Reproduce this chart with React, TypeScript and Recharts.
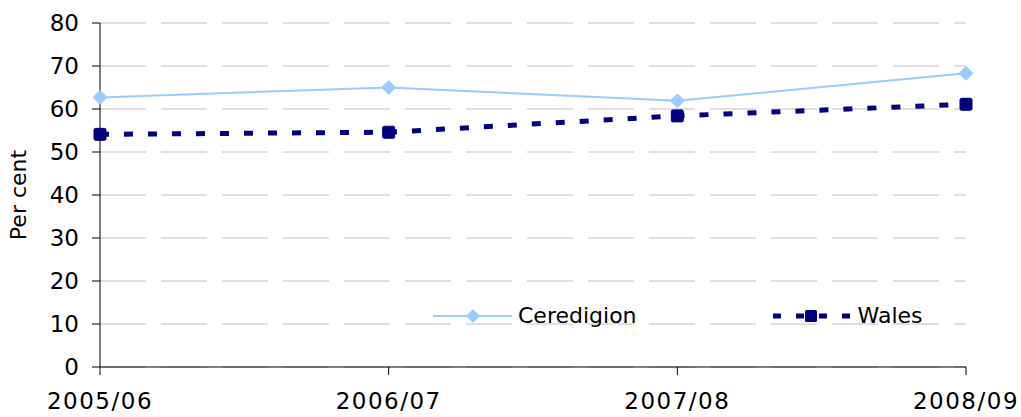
import { LineChart, Line, XAxis, YAxis, CartesianGrid, Legend, Label } from 'recharts';

const years = ['2005/06', '2006/07', '2007/08', '2008/09'];
const ceredigion = [62.7, 65.0, 61.9, 68.3];
const wales = [54.1, 54.6, 58.4, 61.1];
const yTicks = [0, 10, 20, 30, 40, 50, 60, 70, 80];

const data = years.map((year, i) => ({
  year,
  Ceredigion: ceredigion[i],
  Wales: wales[i],
}));

const LIGHT = '#99CCFF';
const NAVY = '#000080';
const FONT = '"DejaVu Sans", Verdana, sans-serif';

const Diamond = (props: any) => {
  const { cx, cy } = props;
  if (cx == null || cy == null) return null;
  const r = 7;
  return (
    <polygon
      points={`${cx},${cy - r} ${cx + r},${cy} ${cx},${cy + r} ${cx - r},${cy}`}
      fill={LIGHT}
      stroke={LIGHT}
    />
  );
};

const Square = (props: any) => {
  const { cx, cy } = props;
  if (cx == null || cy == null) return null;
  return <rect x={cx - 6} y={cy - 6} width={12} height={12} rx={1.5} fill={NAVY} stroke={NAVY} />;
};

const renderLegend = (props: any) => {
  const items = props.payload || [];
  return (
    <div style={{ display: 'flex', alignItems: 'center', fontFamily: FONT, fontSize: 22, lineHeight: '26px' }}>
      {items.map((item: any, i: number) => (
        <div key={item.value} style={{ display: 'flex', alignItems: 'center', marginLeft: i === 0 ? 0 : 136 }}>
          <svg width={79} height={26}>
            {item.value === 'Wales' ? (
              <>
                <line x1={0} y1={13} x2={79} y2={13} stroke={NAVY} strokeWidth={5} strokeDasharray="8 15" />
                <rect x={32} y={7} width={12} height={12} rx={1.5} fill={NAVY} />
              </>
            ) : (
              <>
                <line x1={0} y1={13} x2={79} y2={13} stroke={LIGHT} strokeWidth={2} />
                <polygon points="40,6 47,13 40,20 33,13" fill={LIGHT} />
              </>
            )}
          </svg>
          <span style={{ marginLeft: 6, color: '#000' }}>{item.value}</span>
        </div>
      ))}
    </div>
  );
};

const YLabel = (props: any) => {
  const vb = props.viewBox || { x: 0, y: 0, height: 0 };
  const x = vb.x + 26;
  const y = vb.y + vb.height / 2;
  return (
    <text x={x} y={y} transform={`rotate(-90, ${x}, ${y})`} textAnchor="middle" fontSize={22} fontFamily={FONT} fill="#000">
      Per cent
    </text>
  );
};

export default function App() {
  return (
    <div style={{ position: 'absolute', left: 0, top: 0, width: 1021, height: 417, background: '#fff', fontFamily: FONT }}>
      <LineChart width={1021} height={417} data={data} margin={{ top: 23, right: 55, bottom: 0, left: 0 }}>
        <CartesianGrid vertical={false} stroke="#C0C0C0" strokeDasharray="46 15" />
        <XAxis
          dataKey="year"
          height={50}
          stroke="#000"
          tickSize={8}
          tickMargin={18}
          tick={{ fill: '#000', fontSize: 23, fontFamily: FONT, letterSpacing: 1.5 }}
          interval={0}
        />
        <YAxis
          width={100}
          domain={[0, 80]}
          ticks={yTicks}
          stroke="#000"
          tickSize={8}
          tickMargin={13}
          tick={{ fill: '#000', fontSize: 23, fontFamily: FONT }}
          interval={0}
        >
          <Label content={<YLabel />} />
        </YAxis>
        <Line
          dataKey="Ceredigion"
          stroke={LIGHT}
          strokeWidth={2}
          dot={<Diamond />}
          activeDot={false}
          isAnimationActive={false}
        />
        <Line
          dataKey="Wales"
          stroke={NAVY}
          strokeWidth={5}
          strokeDasharray="9 15"
          dot={<Square />}
          activeDot={false}
          isAnimationActive={false}
        />
        <Legend
          layout="horizontal"
          verticalAlign="middle"
          align="center"
          content={renderLegend}
          wrapperStyle={{ position: 'absolute', top: 303, left: 433, width: 560 }}
        />
      </LineChart>
    </div>
  );
}
